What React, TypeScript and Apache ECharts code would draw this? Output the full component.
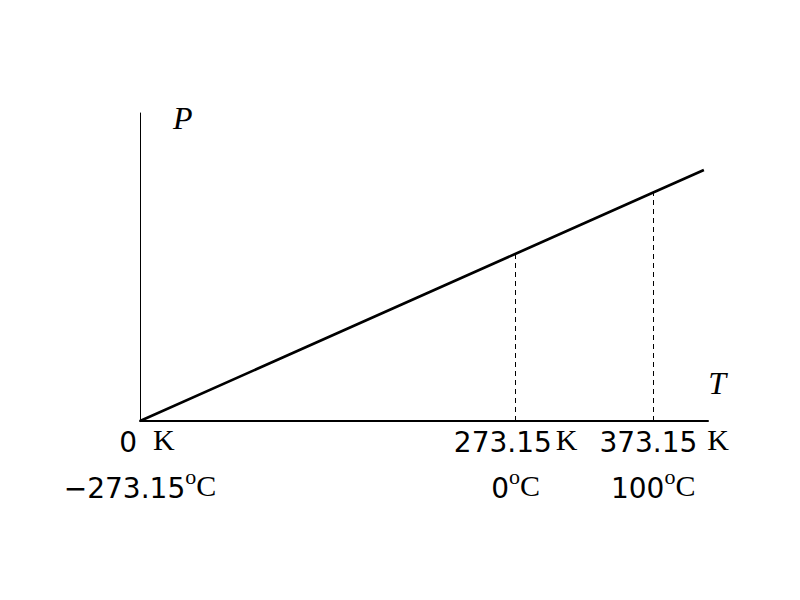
import React, { useEffect, useRef } from "react";
import * as echarts from "echarts";

// Data
const temperatures = [0, 273.15, 373.15, 410];
const pressures = [0, 273.15, 373.15, 410];
const kelvinTicks = [0, 273.15, 373.15];
const kelvinLabels = ["0", "273.15", "373.15"];
const celsiusLabels = ["\u2212273.15", "0", "100"];
const referenceTemps = [273.15, 373.15];

const NUM_FONT = "DejaVu Sans";
const SERIF = "Liberation Serif";

export default function App() {
  const ref = useRef<HTMLDivElement>(null);

  useEffect(() => {
    if (!ref.current) return;
    const chart = echarts.init(ref.current, null, { renderer: "svg" });

    const pressureAt = (t: number) => pressures[temperatures.indexOf(t)];
    const shiftStyles = ["s0", "s1", "s2"];
    const gapStyles = ["g0", "g1", "g2"];

    const option: any = {
      animation: false,
      backgroundColor: "#ffffff",
      grid: { left: 140, right: 92, top: 113, bottom: 179 },
      xAxis: {
        type: "value",
        min: 0,
        max: 413,
        name: "{t|T}",
        nameLocation: "end",
        nameGap: 18,
        nameMoveOverlap: false,
        nameTextStyle: {
          color: "#000",
          align: "right",
          verticalAlign: "bottom",
          rich: {
            t: {
              fontFamily: SERIF,
              fontStyle: "italic",
              fontSize: 32,
              color: "#000",
              padding: [0, 0, 22, 0],
            },
          },
        },
        axisLine: { show: true, lineStyle: { color: "#000", width: 2 } },
        axisTick: { show: false },
        splitLine: { show: false },
        axisLabel: {
          customValues: kelvinTicks,
          hideOverlap: false,
          margin: 4,
          color: "#000",
          formatter: (v: number) => {
            const i = kelvinTicks.findIndex((k) => Math.abs(k - v) < 1e-6);
            if (i < 0) return "";
            return `{${shiftStyles[i]}|}{n1|${kelvinLabels[i]}}{${gapStyles[i]}|}{k1|K}\n{n2|${celsiusLabels[i]}}{d|o}{k2|C}`;
          },
          rich: {
            n1: { fontFamily: NUM_FONT, fontSize: 28, color: "#000", lineHeight: 34 },
            k1: {
              fontFamily: SERIF,
              fontSize: 30,
              color: "#000",
              lineHeight: 34,
              padding: [0, 0, 6, 0],
            },
            n2: { fontFamily: NUM_FONT, fontSize: 28, color: "#000", lineHeight: 58 },
            k2: {
              fontFamily: SERIF,
              fontSize: 30,
              color: "#000",
              lineHeight: 58,
              padding: [0, 0, 6, 0],
            },
            d: {
              fontFamily: SERIF,
              fontSize: 22,
              color: "#000",
              verticalAlign: "top",
              lineHeight: 16,
              padding: [6, 0, 0, 0],
            },
            s0: { width: 14, fontSize: 1 },
            s1: { width: 0, fontSize: 1 },
            s2: { width: 22, fontSize: 1 },
            g0: { width: 16, fontSize: 1 },
            g1: { width: 4, fontSize: 1 },
            g2: { width: 10, fontSize: 1 },
          },
        },
      },
      yAxis: {
        type: "value",
        min: 0,
        max: 503,
        name: "P",
        nameLocation: "end",
        nameGap: -5,
        nameTextStyle: {
          fontFamily: SERIF,
          fontStyle: "italic",
          fontSize: 32,
          color: "#000",
          align: "left",
          verticalAlign: "middle",
          padding: [0, 0, 0, 33],
        },
        axisLine: { show: true, lineStyle: { color: "#000", width: 1 } },
        axisTick: { show: false },
        axisLabel: { show: false },
        splitLine: { show: false },
      },
      series: [
        {
          type: "line",
          data: temperatures.map((t, i) => [t, pressures[i]]),
          symbol: "none",
          lineStyle: { color: "#000", width: 2.6 },
          markLine: {
            silent: true,
            symbol: "none",
            label: { show: false },
            lineStyle: { color: "#000", width: 1, type: [5, 4] },
            data: referenceTemps.map((t) => [
              { coord: [t, 0] },
              { coord: [t, pressureAt(t)] },
            ]),
          },
        },
      ],
    };

    chart.setOption(option);
    return () => chart.dispose();
  }, []);

  return (
    <div
      ref={ref}
      style={{ position: "fixed", left: 0, top: 0, width: 800, height: 600, background: "#fff" }}
    />
  );
}
